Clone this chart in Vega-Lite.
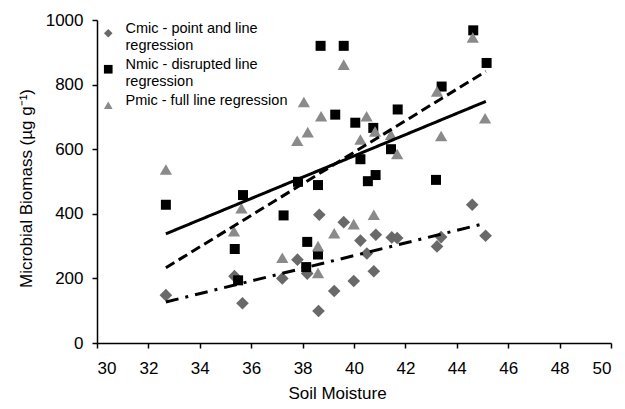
{
  "$schema": "https://vega.github.io/schema/vega-lite/v6.json",
  "width": 514,
  "height": 323,
  "autosize": {"type": "none"},
  "padding": {"left": 97, "top": 20, "right": 14, "bottom": 66},
  "background": "white",
  "config": {
    "font": "Liberation Sans",
    "view": {"stroke": null},
    "axis": {"grid": false, "domainColor": "black", "tickColor": "black", "labelColor": "black", "titleColor": "black", "labelFontSize": 17, "titleFontSize": 17, "titleFontWeight": "normal", "tickSize": 5, "domainWidth": 1.5, "tickWidth": 1.5},
    "legend": {"orient": "none", "legendX": 4, "legendY": 6, "padding": 0, "title": null, "labelFontSize": 14.5, "labelOffset": 10, "labelLimit": 400, "rowPadding": 4, "symbolSize": 75, "labelBaseline": "alphabetic", "labelLineHeight": 18}
  },
  "datasets": {
    "pts": [
      {"series": "Cmic", "x": 32.68, "y": 148},
      {"series": "Cmic", "x": 35.35, "y": 207},
      {"series": "Cmic", "x": 35.66, "y": 123},
      {"series": "Cmic", "x": 37.21, "y": 200},
      {"series": "Cmic", "x": 37.8, "y": 258},
      {"series": "Cmic", "x": 38.18, "y": 215},
      {"series": "Cmic", "x": 38.65, "y": 397},
      {"series": "Cmic", "x": 38.62, "y": 99},
      {"series": "Cmic", "x": 39.23, "y": 161},
      {"series": "Cmic", "x": 39.6, "y": 374},
      {"series": "Cmic", "x": 39.99, "y": 192},
      {"series": "Cmic", "x": 40.25, "y": 317},
      {"series": "Cmic", "x": 40.5, "y": 277},
      {"series": "Cmic", "x": 40.77, "y": 222},
      {"series": "Cmic", "x": 40.85, "y": 335},
      {"series": "Cmic", "x": 41.47, "y": 327},
      {"series": "Cmic", "x": 41.68, "y": 325},
      {"series": "Cmic", "x": 43.23, "y": 299},
      {"series": "Cmic", "x": 43.39, "y": 328},
      {"series": "Cmic", "x": 44.6, "y": 428},
      {"series": "Cmic", "x": 45.12, "y": 332},
      {"series": "Nmic", "x": 32.68, "y": 428},
      {"series": "Nmic", "x": 35.36, "y": 291},
      {"series": "Nmic", "x": 35.49, "y": 194},
      {"series": "Nmic", "x": 35.68, "y": 458},
      {"series": "Nmic", "x": 37.26, "y": 395},
      {"series": "Nmic", "x": 37.82, "y": 499},
      {"series": "Nmic", "x": 38.14, "y": 235},
      {"series": "Nmic", "x": 38.18, "y": 313},
      {"series": "Nmic", "x": 38.6, "y": 274},
      {"series": "Nmic", "x": 38.6, "y": 489},
      {"series": "Nmic", "x": 38.7, "y": 920},
      {"series": "Nmic", "x": 39.27, "y": 707},
      {"series": "Nmic", "x": 39.6, "y": 920},
      {"series": "Nmic", "x": 40.05, "y": 682},
      {"series": "Nmic", "x": 40.25, "y": 569},
      {"series": "Nmic", "x": 40.54, "y": 501},
      {"series": "Nmic", "x": 40.75, "y": 666},
      {"series": "Nmic", "x": 40.84, "y": 520},
      {"series": "Nmic", "x": 41.44, "y": 600},
      {"series": "Nmic", "x": 41.7, "y": 723},
      {"series": "Nmic", "x": 43.19, "y": 505},
      {"series": "Nmic", "x": 43.41, "y": 794},
      {"series": "Nmic", "x": 44.64, "y": 968},
      {"series": "Nmic", "x": 45.16, "y": 867},
      {"series": "Pmic", "x": 32.68, "y": 537},
      {"series": "Pmic", "x": 35.33, "y": 346},
      {"series": "Pmic", "x": 35.62, "y": 417},
      {"series": "Pmic", "x": 37.21, "y": 264},
      {"series": "Pmic", "x": 37.79, "y": 626},
      {"series": "Pmic", "x": 38.05, "y": 746},
      {"series": "Pmic", "x": 38.2, "y": 653},
      {"series": "Pmic", "x": 38.6, "y": 300},
      {"series": "Pmic", "x": 38.6, "y": 217},
      {"series": "Pmic", "x": 38.72, "y": 702},
      {"series": "Pmic", "x": 39.23, "y": 340},
      {"series": "Pmic", "x": 39.6, "y": 862},
      {"series": "Pmic", "x": 39.99, "y": 368},
      {"series": "Pmic", "x": 40.25, "y": 630},
      {"series": "Pmic", "x": 40.49, "y": 702},
      {"series": "Pmic", "x": 40.77, "y": 397},
      {"series": "Pmic", "x": 40.82, "y": 655},
      {"series": "Pmic", "x": 41.44, "y": 645},
      {"series": "Pmic", "x": 41.68, "y": 585},
      {"series": "Pmic", "x": 43.23, "y": 779},
      {"series": "Pmic", "x": 43.39, "y": 641},
      {"series": "Pmic", "x": 44.62, "y": 946},
      {"series": "Pmic", "x": 45.1, "y": 696}
    ],
    "fits": [
      {"series": "Cmic", "x": 32.68, "y": 127},
      {"series": "Cmic", "x": 45.13, "y": 371},
      {"series": "Nmic", "x": 32.68, "y": 233},
      {"series": "Nmic", "x": 45.13, "y": 841},
      {"series": "Pmic", "x": 32.68, "y": 338},
      {"series": "Pmic", "x": 45.13, "y": 748}
    ]
  },
  "encoding": {
    "x": {"field": "x", "type": "quantitative", "scale": {"domain": [30, 50], "nice": false, "zero": false}, "axis": {"values": [30, 32, 34, 36, 38, 40, 42, 44, 46, 48, 50], "title": "Soil Moisture", "titlePadding": 9, "labelPadding": 12, "titleX": 240}},
    "y": {"field": "y", "type": "quantitative", "scale": {"domain": [0, 1000], "nice": false}, "axis": {"values": [0, 200, 400, 600, 800, 1000], "format": "d", "title": "Microbial Biomass  (µg g⁻¹)", "titlePadding": 10, "labelPadding": 9, "titleY": 168}}
  },
  "layer": [
    {
      "data": {"name": "pts"},
      "transform": [{"filter": "datum.series == 'Cmic'"}],
      "mark": {"type": "point", "filled": true, "opacity": 1, "size": 160},
      "encoding": {
        "shape": {"field": "series", "type": "nominal", "scale": {"domain": ["Cmic", "Nmic", "Pmic"], "range": ["diamond", "square", "triangle-up"]}, "legend": {"labelExpr": "datum.label == 'Cmic' ? ['Cmic  - point and line', 'regression'] : datum.label == 'Nmic' ? ['Nmic - disrupted line', 'regression'] : 'Pmic - full line regression'"}},
        "color": {"field": "series", "type": "nominal", "scale": {"domain": ["Cmic", "Nmic", "Pmic"], "range": ["#696969", "#000000", "#8a8a8a"]}, "legend": {"labelExpr": "datum.label == 'Cmic' ? ['Cmic  - point and line', 'regression'] : datum.label == 'Nmic' ? ['Nmic - disrupted line', 'regression'] : 'Pmic - full line regression'"}}
      }
    },
    {
      "data": {"name": "pts"},
      "transform": [{"filter": "datum.series == 'Nmic'"}],
      "mark": {"type": "point", "filled": true, "opacity": 1, "size": 100},
      "encoding": {
        "shape": {"field": "series", "type": "nominal"},
        "color": {"field": "series", "type": "nominal"}
      }
    },
    {
      "data": {"name": "pts"},
      "transform": [{"filter": "datum.series == 'Pmic'"}],
      "mark": {"type": "point", "filled": true, "opacity": 1, "size": 150},
      "encoding": {
        "shape": {"field": "series", "type": "nominal"},
        "color": {"field": "series", "type": "nominal"}
      }
    },
    {
      "data": {"name": "fits"},
      "mark": {"type": "line", "color": "black", "strokeWidth": 3, "strokeCap": "butt"},
      "encoding": {
        "detail": {"field": "series", "type": "nominal"},
        "strokeDash": {"field": "series", "type": "nominal", "scale": {"domain": ["Cmic", "Nmic", "Pmic"], "range": [[13, 7, 3, 7], [10, 5], [1, 0]]}, "legend": null}
      }
    }
  ]
}
